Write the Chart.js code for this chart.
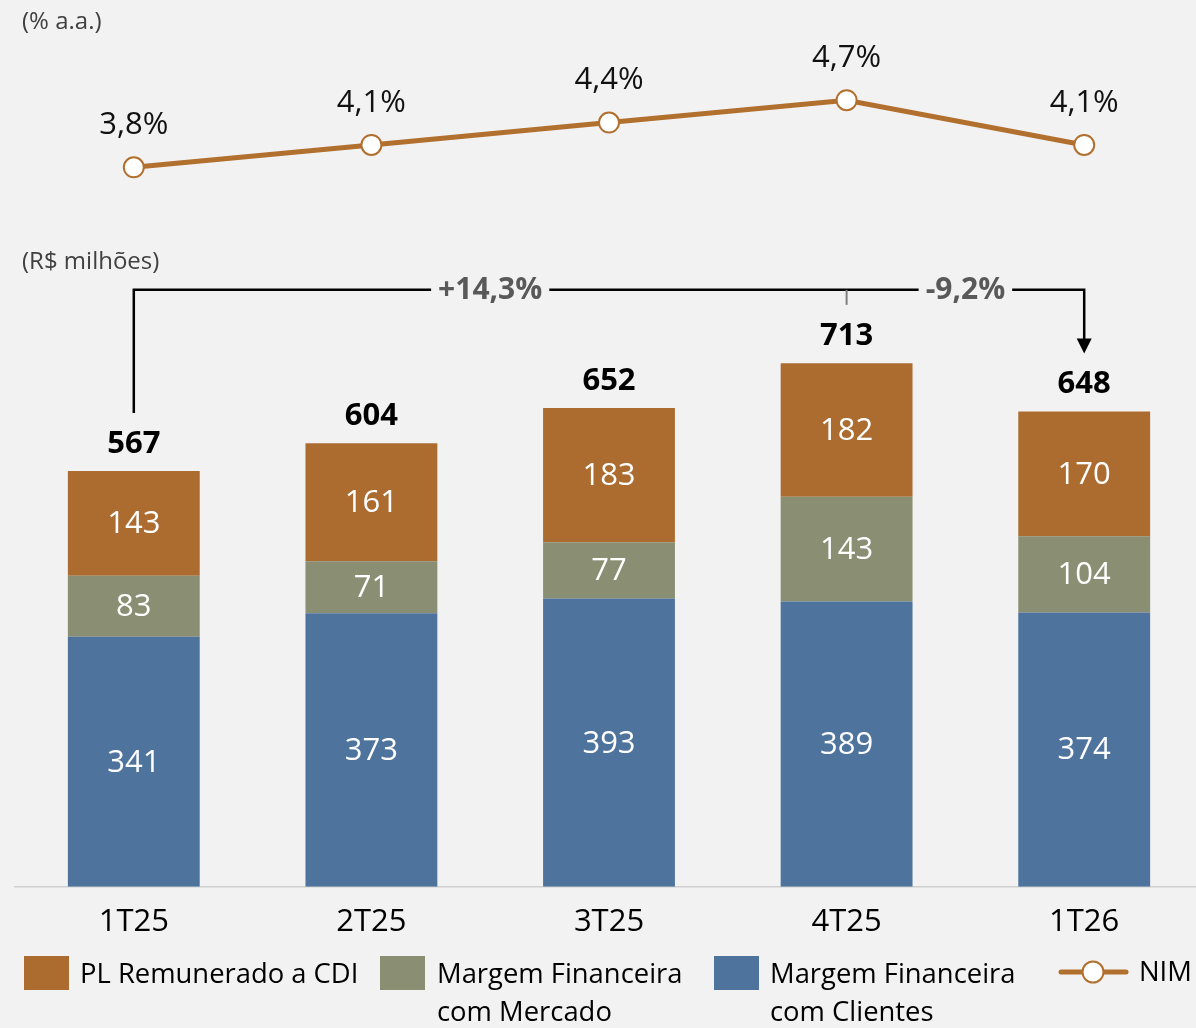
<!DOCTYPE html>
<html>
<head>
<meta charset="utf-8">
<script src="https://cdn.jsdelivr.net/npm/chart.js@4.4.1/dist/chart.umd.min.js"></script>
<style>
  html, body { margin: 0; padding: 0; background: #f2f2f2; overflow: hidden; }
  #wrap { position: relative; width: 1196px; height: 1028px; overflow: hidden; }
  canvas { display: block; }
</style>
</head>
<body>
<div id="wrap"><canvas id="c" width="1215" height="1028"></canvas></div>
<script>
// ---- Data ----
const categories = ['1T25', '2T25', '3T25', '4T25', '1T26'];
const margemClientes = [341, 373, 393, 389, 374];
const margemMercado = [83, 71, 77, 143, 104];
const plCdi = [143, 161, 183, 182, 170];
const totals = [567, 604, 652, 713, 648];
const nim = [3.8, 4.1, 4.4, 4.7, 4.1];
const nimLabels = ['3,8%', '4,1%', '4,4%', '4,7%', '4,1%'];
const variations = [
  { from: 0, to: 3, text: '+14,3%' },
  { from: 3, to: 4, text: '-9,2%' }
];
const bracketLevel = 814;
const seriesNames = ['PL Remunerado a CDI', ['Margem Financeira', 'com Mercado'], ['Margem Financeira', 'com Clientes'], 'NIM'];
const unitLine = '(% a.a.)';
const unitBars = '(R$ milhões)';

const C_ORANGE = '#ad6c2f';
const C_GREEN = '#8a8e72';
const C_BLUE = '#4e749e';
const C_LINE = '#b2702f';
const FONT = "'Open Sans', sans-serif";

Chart.defaults.font.family = FONT;

const labelsPlugin = {
  id: 'labelsPlugin',
  afterDatasetsDraw(chart) {
    const ctx = chart.ctx;
    const xs = chart.scales.x, ys = chart.scales.y;
    ctx.save();
    ctx.textAlign = 'center';
    ctx.textBaseline = 'middle';
    // segment labels
    [0, 1, 2].forEach(di => {
      const meta = chart.getDatasetMeta(di);
      const vals = chart.data.datasets[di].data;
      meta.data.forEach((bar, i) => {
        const p = bar.getProps(['x', 'y', 'base'], true);
        ctx.fillStyle = '#ffffff';
        ctx.font = '31px ' + FONT;
        ctx.fillText(String(vals[i]), p.x, (p.y + p.base) / 2 + 1);
      });
    });
    // totals
    const topMeta = chart.getDatasetMeta(2);
    topMeta.data.forEach((bar, i) => {
      const p = bar.getProps(['x', 'y'], true);
      ctx.fillStyle = '#000000';
      ctx.font = 'bold 31px ' + FONT;
      ctx.fillText(String(totals[i]), p.x, p.y - 27);
    });
    // line labels
    const lineMeta = chart.getDatasetMeta(3);
    lineMeta.data.forEach((pt, i) => {
      const p = pt.getProps(['x', 'y'], true);
      ctx.fillStyle = '#111111';
      ctx.font = '31px ' + FONT;
      ctx.fillText(nimLabels[i], p.x, p.y - 42);
    });

    // bracket
    const yB = ys.getPixelForValue(bracketLevel);
    const xFirst = xs.getPixelForTick(0);
    const xLast = xs.getPixelForTick(categories.length - 1);
    const yStart = ys.getPixelForValue(totals[0]) - 58;
    const yEnd = ys.getPixelForValue(totals[totals.length - 1]) - 58;
    ctx.font = 'bold 30px ' + FONT;
    const gaps = variations.map(v => {
      const cx = (xs.getPixelForTick(v.from) + xs.getPixelForTick(v.to)) / 2;
      const w = ctx.measureText(v.text).width;
      return { cx, w, text: v.text };
    });
    ctx.strokeStyle = '#000000';
    ctx.lineWidth = 2.5;
    ctx.beginPath();
    ctx.moveTo(xFirst, yStart);
    ctx.lineTo(xFirst, yB);
    gaps.forEach(g => {
      ctx.lineTo(g.cx - g.w / 2 - 7, yB);
      ctx.moveTo(g.cx + g.w / 2 + 7, yB);
    });
    ctx.lineTo(xLast, yB);
    ctx.lineTo(xLast, yEnd - 14);
    ctx.stroke();
    ctx.fillStyle = '#000000';
    ctx.beginPath();
    ctx.moveTo(xLast - 7.5, yEnd - 15);
    ctx.lineTo(xLast + 7.5, yEnd - 15);
    ctx.lineTo(xLast, yEnd);
    ctx.closePath();
    ctx.fill();
    // middle tick
    const xMid = xs.getPixelForTick(variations[0].to);
    ctx.strokeStyle = '#7f7f7f';
    ctx.lineWidth = 2;
    ctx.beginPath();
    ctx.moveTo(xMid, yB);
    ctx.lineTo(xMid, yB + 15);
    ctx.stroke();
    gaps.forEach(g => {
      ctx.fillStyle = '#595959';
      ctx.font = 'bold 30px ' + FONT;
      ctx.fillText(g.text, g.cx, yB + 1);
    });

    // unit labels
    ctx.textAlign = 'left';
    ctx.fillStyle = '#404040';
    ctx.font = '24px ' + FONT;
    ctx.fillText(unitLine, 22, 22);
    ctx.fillText(unitBars, 22, 262);

    // legend
    const swatch = (x, color) => { ctx.fillStyle = color; ctx.fillRect(x, 956, 45, 34); };
    ctx.font = '27.4px ' + FONT;
    swatch(24, C_ORANGE);
    ctx.fillStyle = '#000000';
    ctx.fillText(seriesNames[0], 80, 975);
    swatch(380, C_GREEN);
    ctx.fillStyle = '#000000';
    ctx.fillText(seriesNames[1][0], 437, 975);
    ctx.fillText(seriesNames[1][1], 437, 1013);
    swatch(714, C_BLUE);
    ctx.fillStyle = '#000000';
    ctx.fillText(seriesNames[2][0], 770, 975);
    ctx.fillText(seriesNames[2][1], 770, 1013);
    ctx.strokeStyle = C_LINE;
    ctx.lineWidth = 5;
    ctx.lineCap = 'round';
    ctx.beginPath();
    ctx.moveTo(1061, 972);
    ctx.lineTo(1126, 972);
    ctx.stroke();
    ctx.beginPath();
    ctx.arc(1093, 972, 10.5, 0, Math.PI * 2);
    ctx.fillStyle = '#ffffff';
    ctx.fill();
    ctx.lineWidth = 2;
    ctx.stroke();
    ctx.fillStyle = '#000000';
    ctx.fillText(seriesNames[3], 1139, 973);
    ctx.restore();
  }
};

new Chart(document.getElementById('c'), {
  type: 'bar',
  data: {
    labels: categories,
    datasets: [
      { label: 'Margem Financeira com Clientes', data: margemClientes, backgroundColor: C_BLUE, stack: 's', categoryPercentage: 1, barPercentage: 0.555 },
      { label: 'Margem Financeira com Mercado', data: margemMercado, backgroundColor: C_GREEN, stack: 's', categoryPercentage: 1, barPercentage: 0.555 },
      { label: 'PL Remunerado a CDI', data: plCdi, backgroundColor: C_ORANGE, stack: 's', categoryPercentage: 1, barPercentage: 0.555 },
      { type: 'line', label: 'NIM', data: nim, yAxisID: 'y1', borderColor: C_LINE, borderWidth: 5,
        pointRadius: 10, pointBackgroundColor: '#ffffff', pointBorderColor: C_LINE, pointBorderWidth: 2,
        fill: false, tension: 0 }
    ]
  },
  options: {
    responsive: false,
    maintainAspectRatio: false,
    devicePixelRatio: 1,
    animation: false,
    events: [],
    layout: { padding: { left: 15, right: 6, top: 20, bottom: 70 } },
    plugins: { legend: { display: false }, tooltip: { enabled: false } },
    scales: {
      x: {
        stacked: true,
        offset: true,
        grid: { display: false, drawTicks: false },
        border: { display: true, color: '#d0d0d0', width: 1.5 },
        ticks: { color: '#000000', font: { size: 31, family: FONT }, padding: 17, maxRotation: 0 }
      },
      y: { stacked: true, display: false, min: 0, max: 1182 },
      y1: { stacked: false, display: false, min: -5.845, max: 5.775 }
    }
  },
  plugins: [labelsPlugin]
});
</script>
</body>
</html>
